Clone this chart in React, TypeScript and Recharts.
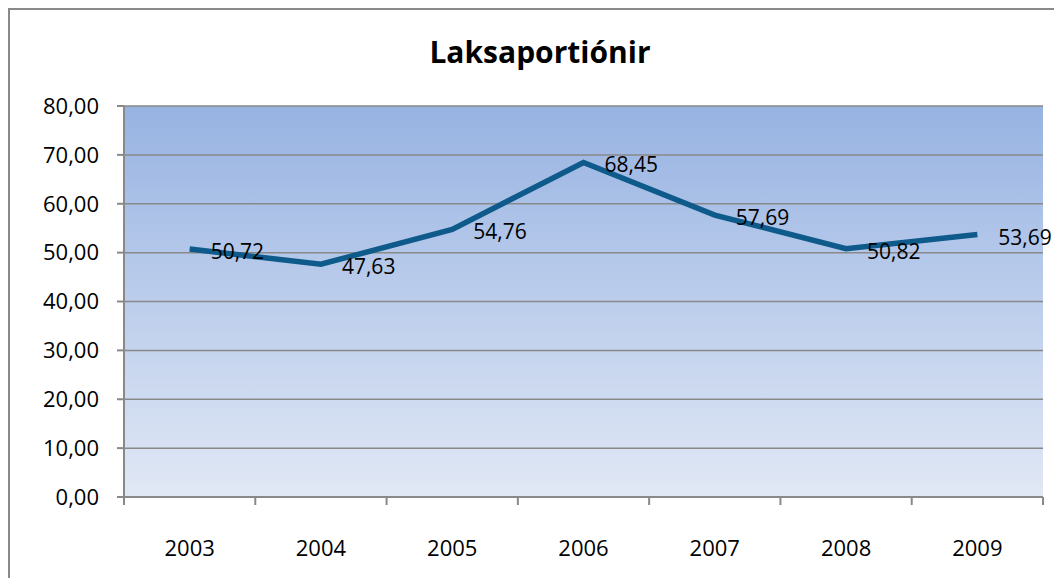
import { LineChart, Line, XAxis, YAxis, CartesianGrid, LabelList } from "recharts";

const years = ["2003", "2004", "2005", "2006", "2007", "2008", "2009"];
const portions = [50.72, 47.63, 54.76, 68.45, 57.69, 50.82, 53.69];
const yTicks = [0, 10, 20, 30, 40, 50, 60, 70, 80];
// category boundaries (tick marks) plus centres (labels)
const xTicks = [-0.5, 0, 0.5, 1, 1.5, 2, 2.5, 3, 3.5, 4, 4.5, 5, 5.5, 6, 6.5];

const data = years.map((y, i) => ({ i, year: y, value: portions[i] }));

const FONT = "'Open Sans', 'Noto Sans', sans-serif";
const GRAY = "#898989";
const FS = 22;

const fmt = (v: number) => v.toFixed(2).replace(".", ",");

function XTick(props: any) {
  const { x, y, payload } = props;
  const v = payload.value as number;
  if (Number.isInteger(v)) {
    return (
      <text x={x} y={y + 51} textAnchor="middle" fontSize={FS} fontFamily={FONT} fill="#000">
        {years[v]}
      </text>
    );
  }
  return <line x1={x} x2={x} y1={y - 8} y2={y} stroke={GRAY} strokeWidth={2} />;
}

function ValueLabel(props: any) {
  const { x, y, value } = props;
  return (
    <text
      x={x + 21}
      y={y + 2}
      dominantBaseline="central"
      fontSize={21}
      fontFamily={FONT}
      fill="#000"
    >
      {fmt(value)}
    </text>
  );
}

export default function App() {
  return (
    <div style={{ position: "relative", width: 1054, height: 570 }}>
      <div
        style={{
          position: "absolute",
          left: 0,
          top: 0,
          width: 1054,
          height: 570,
          borderTop: `2px solid ${GRAY}`,
          borderLeft: `2px solid ${GRAY}`,
          boxSizing: "border-box",
        }}
      />
      <div style={{ position: "absolute", left: 0, top: 0 }}>
        <LineChart
          width={1054}
          height={570}
          data={data}
          margin={{ top: 98, right: 19, left: 0, bottom: 20 }}
        >
          <defs>
            <linearGradient id="plotBg" x1="0" y1="0" x2="0" y2="1">
              <stop offset="0%" stopColor="#97b3e2" />
              <stop offset="100%" stopColor="#e1e8f5" />
            </linearGradient>
          </defs>
          <text
            x={532}
            y={55}
            textAnchor="middle"
            fontSize={30}
            fontWeight="bold"
            fontFamily={FONT}
            fill="#000"
          >
            Laksaportiónir
          </text>
          <CartesianGrid
            vertical={false}
            stroke={GRAY}
            strokeWidth={1.5}
            fill="url(#plotBg)"
            fillOpacity={1}
          />
          <XAxis
            type="number"
            dataKey="i"
            domain={[-0.5, 6.5]}
            ticks={xTicks}
            interval={0}
            height={61}
            axisLine={{ stroke: GRAY, strokeWidth: 2 }}
            tickLine={false}
            tick={<XTick />}
          />
          <YAxis
            domain={[0, 80]}
            ticks={yTicks}
            width={116}
            interval={0}
            axisLine={{ stroke: GRAY, strokeWidth: 2 }}
            tickLine={{ stroke: GRAY, strokeWidth: 2 }}
            tickSize={7}
            tickMargin={18}
            tickFormatter={fmt}
            tick={{ fill: "#000", fontSize: FS, fontFamily: FONT }}
          />
          <Line
            dataKey="value"
            stroke="#0e5a8a"
            strokeWidth={5.5}
            dot={false}
            activeDot={false}
            isAnimationActive={false}
          >
            <LabelList dataKey="value" content={<ValueLabel />} />
          </Line>
        </LineChart>
      </div>
    </div>
  );
}
